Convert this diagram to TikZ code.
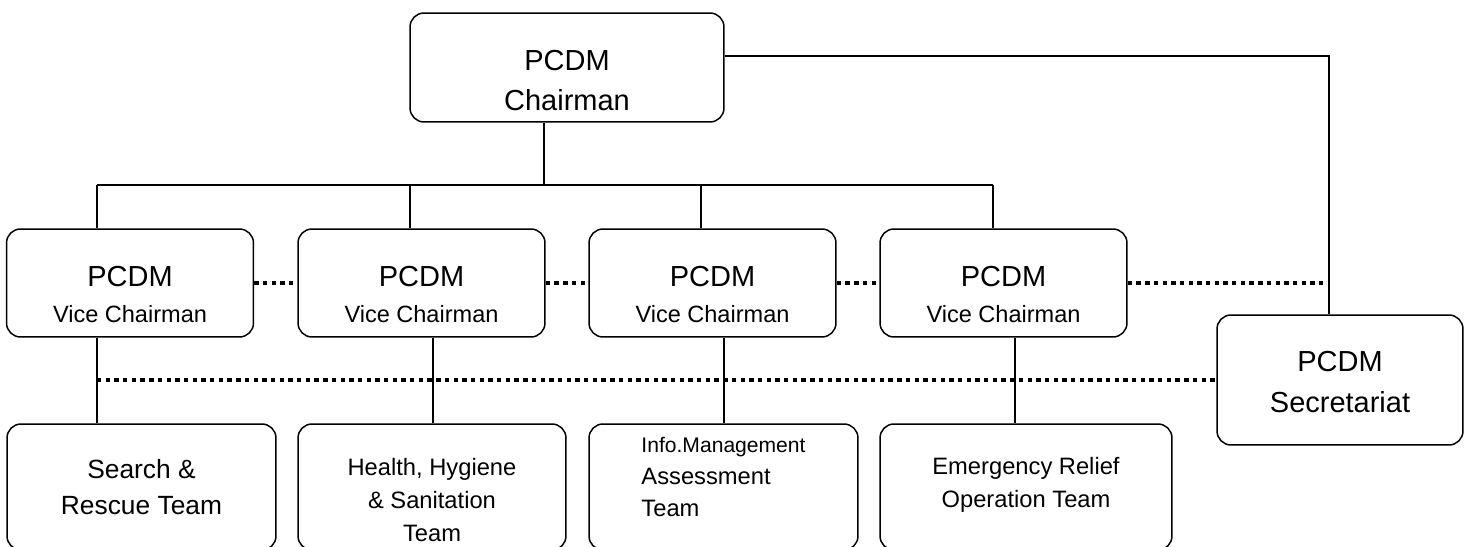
\documentclass[tikz,border=0pt]{standalone}
\usepackage{fontspec}
\setmainfont{Liberation Sans}
\usepackage{tikz}
\newcommand{\capstrut}[1]{\rule{0pt}{#1}}
\newcommand{\tailstrut}[1]{\rule[-#1]{0pt}{0pt}}

\begin{document}
\begin{tikzpicture}[
  x=0.02cm, y=-0.02cm,
  box/.style={rectangle, draw, rounded corners=0.28cm, line width=0.85pt, align=center},
  chief/.style={box, minimum width=6.28cm, minimum height=2.18cm, font=\fontsize{16.5}{22.8}\selectfont},
  vice/.style={box, minimum width=4.94cm, minimum height=2.16cm, font=\fontsize{16.5}{20.5}\selectfont},
  team/.style={box, minimum height=2.52cm},
  link/.style={line width=0.8pt},
  peer/.style={line width=2pt, dash pattern=on 2.5pt off 2.45pt},
]
\useasboundingbox (0,0) rectangle (1467,547);
\clip (0,0) rectangle (1467,547);

% Chairman and secretariat
\node[chief] (chair) at (567,67.5) {\capstrut{26.7pt}PCDM\\Chairman};
\node[chief, minimum width=4.92cm, minimum height=2.6cm, font=\fontsize{16.5}{23.3}\selectfont] (sec) at (1340,380) {\capstrut{14.2pt}PCDM\\Secretariat};

% Vice chairmen
\node[vice] (vc1) at (130,283) {\capstrut{25pt}PCDM\\{\fontsize{13.4}{16}\selectfont Vice Chairman}};
\node[vice] (vc2) at (421.5,283) {\capstrut{25pt}PCDM\\{\fontsize{13.4}{16}\selectfont Vice Chairman}};
\node[vice] (vc3) at (712.5,283) {\capstrut{25pt}PCDM\\{\fontsize{13.4}{16}\selectfont Vice Chairman}};
\node[vice] (vc4) at (1003.5,283) {\capstrut{25pt}PCDM\\{\fontsize{13.4}{16}\selectfont Vice Chairman}};

% Teams
\node[team, minimum width=5.38cm, font=\fontsize{15}{20.5}\selectfont] (t1) at (141.5,487) {\capstrut{11.4pt}Search \&\\Rescue Team};
\node[team, minimum width=5.36cm, font=\fontsize{13.5}{19}\selectfont] (t2) at (432,487) {\capstrut{24.5pt}Health, Hygiene\\\& Sanitation\\Team};
\node[team, minimum width=5.38cm, align=left, font=\fontsize{13.5}{18.2}\selectfont] (t3) at (723.5,487) {{\fontsize{12}{18.2}\selectfont Info.Management}\\Assessment\\Team\tailstrut{11pt}};
\node[team, minimum width=5.84cm, font=\fontsize{13.5}{18.8}\selectfont] (t4) at (1026,487) {Emergency Relief\\Operation Team\tailstrut{4.7pt}};

% Junctions
\coordinate (top) at (544,185);
\coordinate (j1) at (97,185);
\coordinate (j2) at (410,185);
\coordinate (j3) at (701,185);
\coordinate (j4) at (993,185);
\coordinate (k1) at (97,380);
\coordinate (k2) at (433,380);
\coordinate (k3) at (724,380);
\coordinate (k4) at (1015,380);
\coordinate (corner) at (1329,56);

% Solid lines
\draw[link] (chair.south -| top) -- (top);
\draw[link] (j1) -- (j4);
\draw[link] (j1) -- (vc1.north -| j1);
\draw[link] (j2) -- (vc2.north -| j2);
\draw[link] (j3) -- (vc3.north -| j3);
\draw[link] (j4) -- (vc4.north -| j4);
\draw[link] (vc1.south -| k1) -- (t1.north -| k1);
\draw[link] (vc2.south -| k2) -- (t2.north -| k2);
\draw[link] (vc3.south -| k3) -- (t3.north -| k3);
\draw[link] (vc4.south -| k4) -- (t4.north -| k4);
\draw[link] (chair.east |- corner) -- (corner) -- (sec.north -| corner);

% Dotted lines
\draw[peer] (vc1.east) -- (vc2.west);
\draw[peer] (vc2.east) -- (vc3.west);
\draw[peer] (vc3.east) -- (vc4.west);
\draw[peer] (vc4.east) -- (vc4.east -| corner);
\draw[peer] (k1) -- (sec.west);
\end{tikzpicture}
\end{document}
